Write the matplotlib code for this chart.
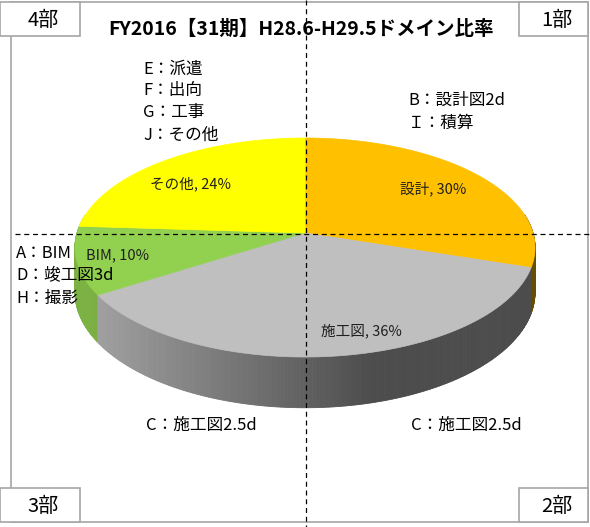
import numpy as np
import matplotlib
matplotlib.use("Agg")
import matplotlib.pyplot as plt
from matplotlib.patches import Polygon, Rectangle
from matplotlib.collections import PolyCollection
from matplotlib.colors import to_rgb

plt.rcParams['font.family'] = ['Noto Sans CJK JP', 'DejaVu Sans']

# chart data
labels = ['設計', '施工図', 'BIM', 'その他']
shares = [30, 36, 10, 24]
colors = ['#FFC000', '#BFBFBF', '#92D050', '#FFFF00']
title = 'FY2016【31期】H28.6-H29.5ドメイン比率'
corner_names = ['4部', '1部', '3部', '2部']
notes_tl = ['E：派遣', 'F：出向', 'G：工事', 'J：その他']
notes_tr = ['B：設計図2d', 'Ｉ：積算']
notes_ml = ['A：BIM', 'D：竣工図3d', 'H：撮影']
notes_bottom = ['C：施工図2.5d', 'C：施工図2.5d']

fig = plt.figure(figsize=(5.9, 5.27), dpi=100)
ax = fig.add_axes([0, 0, 1, 1])
ax.set_xlim(0, 590)
ax.set_ylim(527, 0)
ax.axis('off')

# pie geometry in pixels (simple perspective tilt)
cx, cy = 305, 233
A, B, P, H = 228, 107.6, 0.1324, 44


def proj(u, v, z=0.0):
    d = 1 - P * v
    return cx + A * u / d, cy + (B * v + H * z) / d


def shade(x):
    return np.clip(0.85 - (x - 90) / 280 * 0.45, 0.4, 0.85)


# outer frame
ax.add_patch(Rectangle((11, 2), 577, 520, fill=False, ec='#a6a6a6', lw=1.2))

bounds = np.concatenate([[0], np.cumsum(shares)]) / sum(shares) * 360

side_polys, side_cols, side_keys = [], [], []
tops = []
for i, lab in enumerate(labels):
    t0, t1 = bounds[i], bounds[i + 1]
    th = np.radians(np.linspace(t0, t1, 120))
    pts = [proj(0, 0)] + [proj(np.sin(t), -np.cos(t)) for t in th]
    tops.append(Polygon(pts, closed=True, fc=colors[i], ec=colors[i], lw=0.5))
    # visible outer side
    a0, a1 = max(t0, 80), min(t1, 280)
    if a1 > a0:
        ths = np.radians(np.linspace(a0, a1, int((a1 - a0) * 2) + 2))
        base = np.array(to_rgb(colors[i]))
        for ta, tb in zip(ths[:-1], ths[1:]):
            ua, va = np.sin(ta), -np.cos(ta)
            ub, vb = np.sin(tb), -np.cos(tb)
            q = [proj(ua, va), proj(ub, vb), proj(ub, vb, 1), proj(ua, va, 1)]
            xm = (q[0][0] + q[1][0]) / 2
            c = base * shade(xm)
            side_polys.append(q)
            side_cols.append(c)
            side_keys.append((va + vb) / 2)

order = np.argsort(side_keys)
pc = PolyCollection([side_polys[k] for k in order],
                    facecolors=[side_cols[k] for k in order],
                    edgecolors=[side_cols[k] for k in order], linewidths=0.6)
ax.add_collection(pc)
for p in tops:
    ax.add_patch(p)

# slice labels
label_pos = [(433, 189), (361, 331), (118, 255), (190, 184)]
for lab, s, (x, y) in zip(labels, shares, label_pos):
    ax.text(x, y, f'{lab}, {s}%', ha='center', va='center', fontsize=10.5, color='#202020')

# quadrant lines
ax.plot([305.5, 305.5], [0, 527], ls=(0, (4, 3)), color='black', lw=0.9)
ax.plot([15, 590], [233.5, 233.5], ls=(0, (4, 3)), color='black', lw=0.9)

# corner boxes
boxes = [(0, 2, 80, 34), (519, 2, 69, 34), (0, 488, 80, 34), (519, 488, 69, 34)]
for name, (x, y, w, h) in zip(corner_names, boxes):
    ax.add_patch(Rectangle((x, y), w, h, fc='white', ec='#a6a6a6', lw=1.2, zorder=5))
    ax.text(x + w / 2 + 3, y + h / 2 + 1, name, ha='center', va='center', fontsize=14.5, zorder=6)

ax.text(301, 29, title, ha='center', va='center', fontsize=14, fontweight='bold')

for k, t in enumerate(notes_tl):
    ax.text(143, 69 + 22 * k, t, ha='left', va='center', fontsize=12)
for k, t in enumerate(notes_tr):
    ax.text(408, 100 + 23 * k, t, ha='left', va='center', fontsize=12)
for k, t in enumerate(notes_ml):
    ax.text(16, 254 + 22 * k, t, ha='left', va='center', fontsize=12)
ax.text(146, 425, notes_bottom[0], ha='left', va='center', fontsize=12)
ax.text(411, 425, notes_bottom[1], ha='left', va='center', fontsize=12)

fig.savefig('out.png', dpi=100)
